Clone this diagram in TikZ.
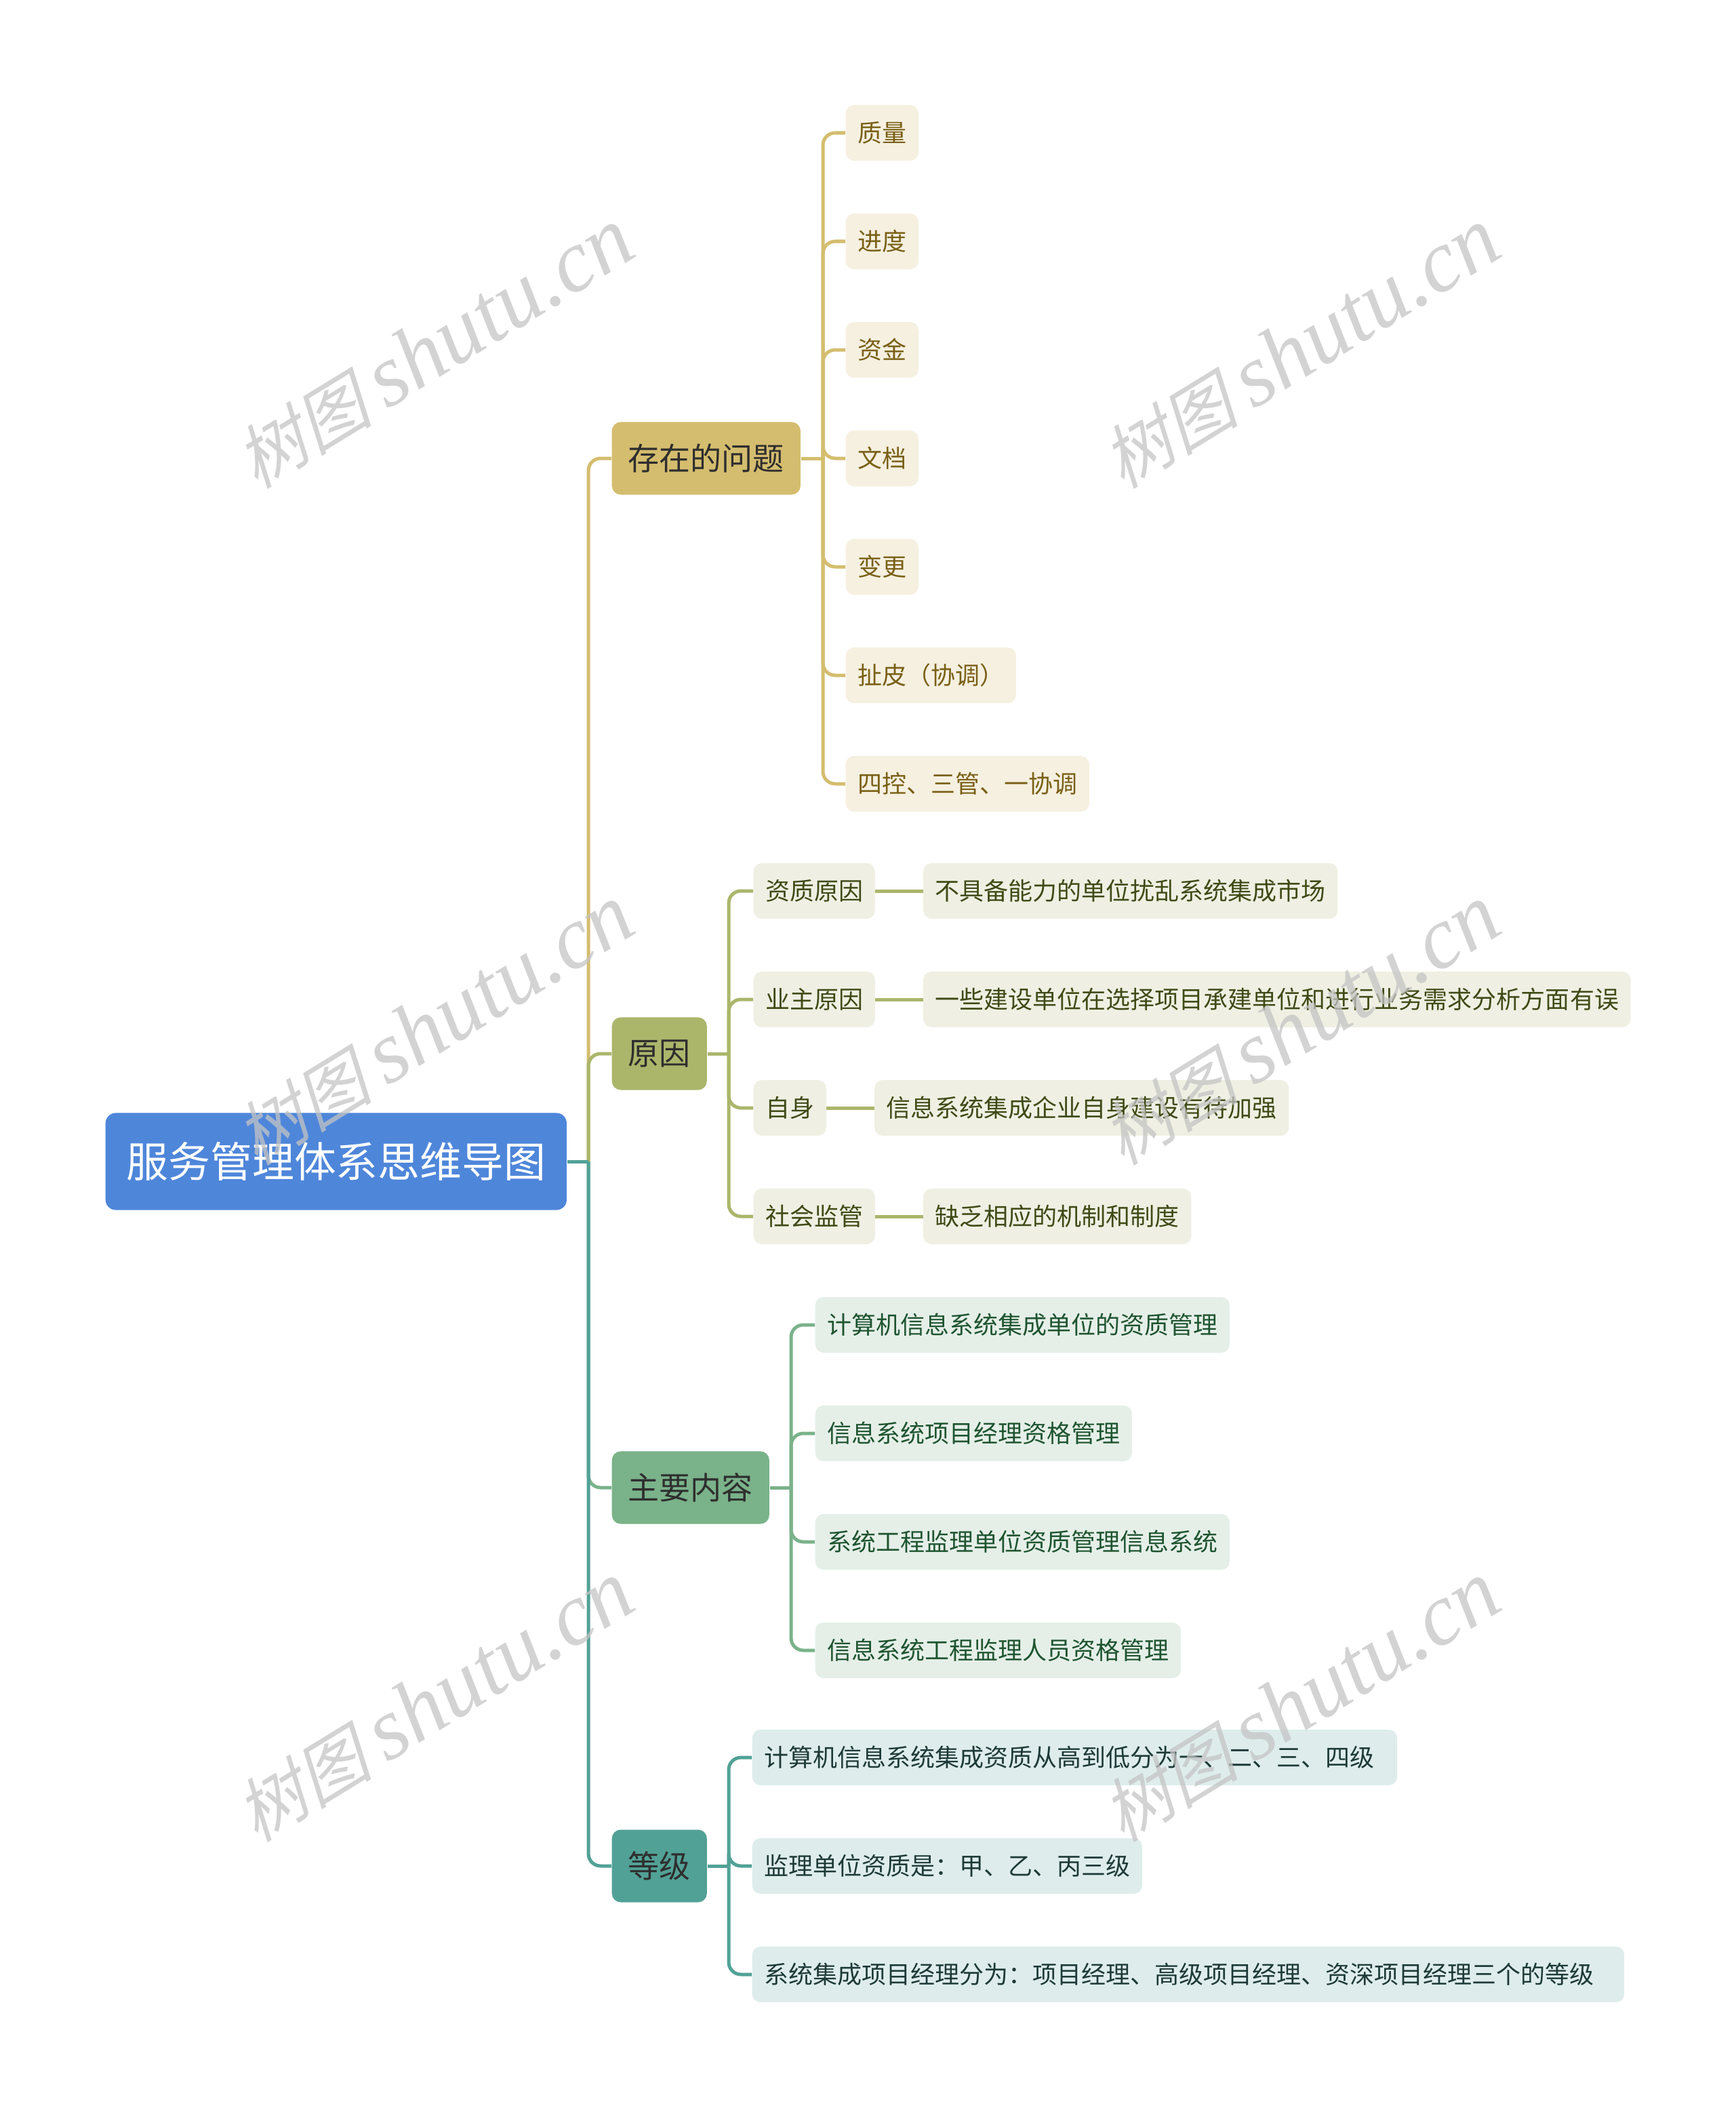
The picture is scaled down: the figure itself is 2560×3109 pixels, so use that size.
\documentclass[tikz,border=0pt]{standalone}
\usepackage{fontspec}
\setmainfont{Noto Sans CJK SC}
\newfontfamily\wmcjk[FakeSlant=0.25]{Noto Sans CJK SC}
\newfontfamily\wmserif{Liberation Serif}
\definecolor{rootblue}{HTML}{4E86DA}
\definecolor{cgold}{HTML}{D4BD6E}
\definecolor{cgoldfill}{HTML}{F5F0E0}
\definecolor{cgoldtext}{HTML}{7A6016}
\definecolor{colive}{HTML}{ABB66B}
\definecolor{colivefill}{HTML}{EFF0E3}
\definecolor{colivetext}{HTML}{3F4A16}
\definecolor{cgreen}{HTML}{7AB28A}
\definecolor{cgreenfill}{HTML}{E5EFE8}
\definecolor{cgreentext}{HTML}{1E5430}
\definecolor{cteal}{HTML}{52A196}
\definecolor{ctealfill}{HTML}{DEEDEC}
\definecolor{ctealtext}{HTML}{1E3A38}
\definecolor{wmgray}{HTML}{C4C4C4}
\begin{document}
\begin{tikzpicture}[x=0.01cm,y=-0.01cm,
  rootbox/.style={fill=rootblue, rounded corners=0.15cm, inner xsep=0.31cm, inner ysep=0pt,
    minimum height=1.43cm, text=white, font=\fontsize{17.58pt}{20pt}\selectfont, anchor=west},
  branchbox/.style={rounded corners=0.13cm, inner xsep=0.24cm, inner ysep=0pt,
    minimum height=1.07cm, text=black!82, font=\fontsize{13.09pt}{15pt}\selectfont, anchor=west},
  leafbox/.style={rounded corners=0.12cm, inner xsep=0.175cm, inner ysep=0pt,
    minimum height=0.82cm, font=\fontsize{10.24pt}{12pt}\selectfont, anchor=west},
  goldleaf/.style={leafbox, fill=cgoldfill, text=cgoldtext},
  oliveleaf/.style={leafbox, fill=colivefill, text=colivetext},
  greenleaf/.style={leafbox, fill=cgreenfill, text=cgreentext},
  tealleaf/.style={leafbox, fill=ctealfill, text=ctealtext},
  conn/.style={line width=0.05cm, rounded corners=0.18cm},
  wmark/.style={rotate=31.5, text=wmgray, opacity=0.75, inner sep=0pt}
]
\useasboundingbox (0,0) rectangle (2560,3109);

% root
\node[rootbox] (root) at (155,1713) {服务管理体系思维导图};

% branches
\node[branchbox, fill=cgold] (b1) at (902,676) {存在的问题};
\node[branchbox, fill=colive] (b2) at (902,1554) {原因};
\node[branchbox, fill=cgreen] (b3) at (902,2194) {主要内容};
\node[branchbox, fill=cteal] (b4) at (902,2752) {等级};

% branch 1 children
\node[goldleaf] (a1) at (1247,196) {质量};
\node[goldleaf] (a2) at (1247,356) {进度};
\node[goldleaf] (a3) at (1247,516) {资金};
\node[goldleaf] (a4) at (1247,676) {文档};
\node[goldleaf] (a5) at (1247,836) {变更};
\node[goldleaf] (a6) at (1247,996) {扯皮（协调）};
\node[goldleaf] (a7) at (1247,1156) {四控、三管、一协调};

% branch 2 children
\node[oliveleaf] (c1) at (1111,1314) {资质原因};
\node[oliveleaf] (c2) at (1111,1474) {业主原因};
\node[oliveleaf] (c3) at (1111,1634) {自身};
\node[oliveleaf] (c4) at (1111,1794) {社会监管};
\node[oliveleaf] (d1) at ([xshift=0.7cm]c1.east) {不具备能力的单位扰乱系统集成市场};
\node[oliveleaf] (d2) at ([xshift=0.7cm]c2.east) {一些建设单位在选择项目承建单位和进行业务需求分析方面有误};
\node[oliveleaf] (d3) at ([xshift=0.7cm]c3.east) {信息系统集成企业自身建设有待加强};
\node[oliveleaf] (d4) at ([xshift=0.7cm]c4.east) {缺乏相应的机制和制度};

% branch 3 children
\node[greenleaf] (e1) at (1202,1954) {计算机信息系统集成单位的资质管理};
\node[greenleaf] (e2) at (1202,2114) {信息系统项目经理资格管理};
\node[greenleaf] (e3) at (1202,2274) {系统工程监理单位资质管理信息系统};
\node[greenleaf] (e4) at (1202,2434) {信息系统工程监理人员资格管理};

% branch 4 children
\node[tealleaf] (f1) at (1109,2592) {计算机信息系统集成资质从高到低分为一、二、三、四级\hspace*{0.16cm}};
\node[tealleaf] (f2) at (1109,2752) {监理单位资质是：甲、乙、丙三级};
\node[tealleaf] (f3) at (1109,2912) {系统集成项目经理分为：项目经理、高级项目经理、资深项目经理三个的等级\hspace*{0.27cm}};

% junction coordinates
\coordinate (rj) at (868,1713);
\coordinate (j1) at (1214,676);
\coordinate (j2) at (1075,1554);
\coordinate (j3) at (1167,2194);
\coordinate (j4) at (1075,2752);

% main connectors
\draw[conn, cgold] (rj) |- (b1.west);
\draw[conn, colive] (rj) |- (b2.west);
\draw[conn, cgreen] (rj) |- (b3.west);
\draw[conn, cteal] (rj) |- (b4.west);
\draw[conn, cteal] (root.east) -- (rj);

% branch 1
\draw[conn, cgold] (b1.east) -- (j1);
\foreach \n in {a1,a2,a3,a4,a5,a6,a7} { \draw[conn, cgold] (j1) |- (\n.west); }
% branch 2
\draw[conn, colive] (b2.east) -- (j2);
\foreach \n in {c1,c2,c3,c4} { \draw[conn, colive] (j2) |- (\n.west); }
\draw[conn, colive] (c1.east) -- (d1.west);
\draw[conn, colive] (c2.east) -- (d2.west);
\draw[conn, colive] (c3.east) -- (d3.west);
\draw[conn, colive] (c4.east) -- (d4.west);
% branch 3
\draw[conn, cgreen] (b3.east) -- (j3);
\foreach \n in {e1,e2,e3,e4} { \draw[conn, cgreen] (j3) |- (\n.west); }
% branch 4
\draw[conn, cteal] (b4.east) -- (j4);
\foreach \n in {f1,f2,f3} { \draw[conn, cteal] (j4) |- (\n.west); }

% watermarks
\foreach \wx/\wy [count=\i] in {640/514, 1918/514, 640/1512, 1918/1512, 640/2510, 1918/2510} {
  \node[wmark] (wm\i) at (\wx,\wy) {{\fontsize{29pt}{34pt}\selectfont\wmcjk 树图}\hspace{0.22cm}{\fontsize{37pt}{42pt}\selectfont\wmserif\itshape shutu.cn}};
}
\end{tikzpicture}
\end{document}
